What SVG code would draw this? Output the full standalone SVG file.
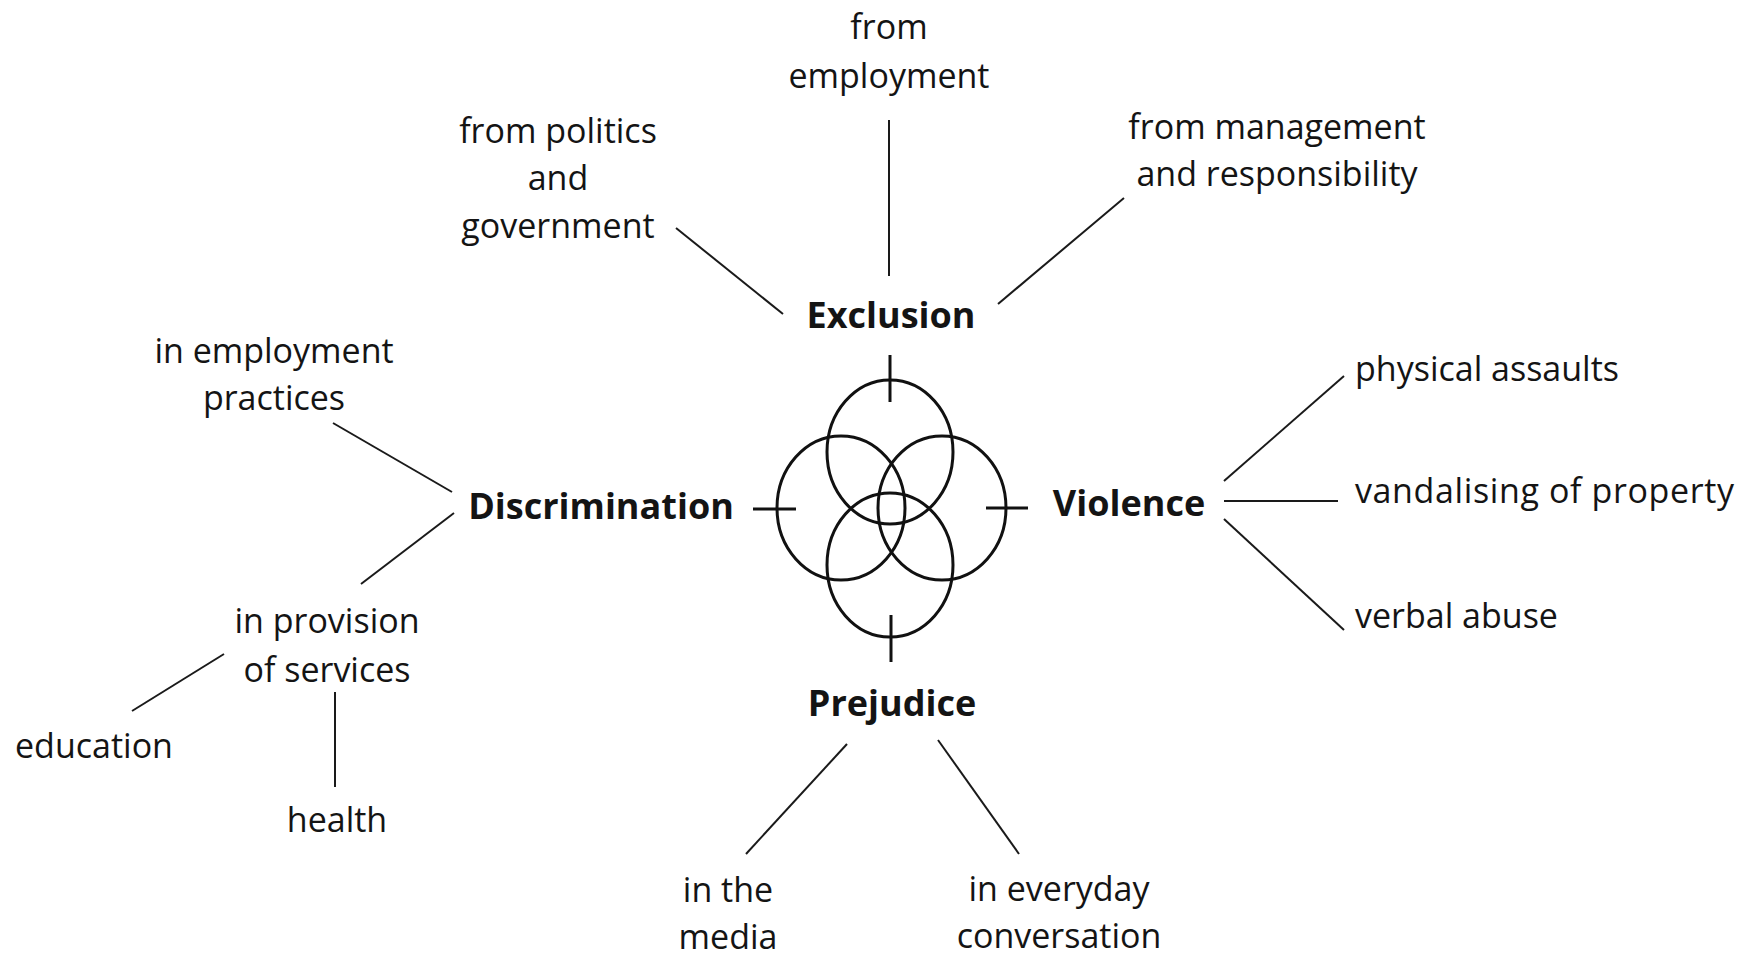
<svg xmlns="http://www.w3.org/2000/svg" width="1746" height="956" viewBox="0 0 1746 956">
<style>
  text { font-family: "Open Sans", "Noto Sans", "DejaVu Sans", sans-serif; fill: #141414; }
  .lbl { font-size: 34px; }
  .hub { font-size: 36px; font-weight: bold; }
  .c { text-anchor: middle; }
  .l { text-anchor: start; }
  .ring { fill: none; stroke: #111; stroke-width: 3; }
  .tick { stroke: #111; stroke-width: 3; }
  .edge { stroke: #1a1a1a; stroke-width: 2; fill: none; }
</style>
<rect width="1746" height="956" fill="#ffffff"/>

<g id="center-symbol">
  <ellipse class="ring" cx="890" cy="452" rx="63" ry="72"/>
  <ellipse class="ring" cx="890" cy="565" rx="63" ry="72"/>
  <ellipse class="ring" cx="841" cy="508" rx="64" ry="72"/>
  <ellipse class="ring" cx="942" cy="508" rx="64" ry="72"/>
  <line class="tick" x1="890" y1="355" x2="890" y2="402"/>
  <line class="tick" x1="891" y1="615" x2="891" y2="662"/>
  <line class="tick" x1="753" y1="509" x2="796" y2="509"/>
  <line class="tick" x1="986" y1="508" x2="1028" y2="508"/>
</g>

<g id="connectors">
  <line class="edge" x1="889" y1="120" x2="889" y2="276"/>
  <line class="edge" x1="676" y1="228" x2="783" y2="314"/>
  <line class="edge" x1="1124" y1="198" x2="998" y2="304"/>
  <line class="edge" x1="333" y1="423" x2="452" y2="492"/>
  <line class="edge" x1="454" y1="513" x2="361" y2="584"/>
  <line class="edge" x1="224" y1="654" x2="132" y2="711"/>
  <line class="edge" x1="335" y1="692" x2="335" y2="787"/>
  <line class="edge" x1="847" y1="744" x2="746" y2="854"/>
  <line class="edge" x1="938" y1="740" x2="1019" y2="854"/>
  <line class="edge" x1="1224" y1="481" x2="1344" y2="376"/>
  <line class="edge" x1="1224" y1="501" x2="1338" y2="501"/>
  <line class="edge" x1="1224" y1="519" x2="1344" y2="630"/>
</g>

<g id="exclusion"><text class="hub c" x="891" y="328">Exclusion</text></g>
<g id="discrimination"><text class="hub c" x="601" y="519">Discrimination</text></g>
<g id="violence"><text class="hub c" x="1129" y="516">Violence</text></g>
<g id="prejudice"><text class="hub c" x="892" y="716">Prejudice</text></g>

<g id="from-employment"><text class="lbl c" x="889" y="39">from</text><text class="lbl c" x="889" y="88">employment</text></g>
<g id="from-politics"><text class="lbl c" x="558" y="143">from politics</text><text class="lbl c" x="558" y="190">and</text><text class="lbl c" x="558" y="238">government</text></g>
<g id="from-management"><text class="lbl c" x="1277" y="139">from management</text><text class="lbl c" x="1277" y="186">and responsibility</text></g>
<g id="in-employment"><text class="lbl c" x="274" y="363">in employment</text><text class="lbl c" x="274" y="410">practices</text></g>
<g id="in-provision"><text class="lbl c" x="327" y="633">in provision</text><text class="lbl c" x="327" y="682">of services</text></g>
<g id="education"><text class="lbl c" x="94" y="758">education</text></g>
<g id="health"><text class="lbl c" x="337" y="832">health</text></g>
<g id="in-the-media"><text class="lbl c" x="728" y="902">in the</text><text class="lbl c" x="728" y="949">media</text></g>
<g id="in-everyday"><text class="lbl c" x="1059" y="901">in everyday</text><text class="lbl c" x="1059" y="948">conversation</text></g>
<g id="physical-assaults"><text class="lbl l" x="1355" y="381">physical assaults</text></g>
<g id="vandalising"><text class="lbl l" x="1355" y="503" textLength="379" lengthAdjust="spacing">vandalising of property</text></g>
<g id="verbal-abuse"><text class="lbl l" x="1355" y="628">verbal abuse</text></g>
</svg>
